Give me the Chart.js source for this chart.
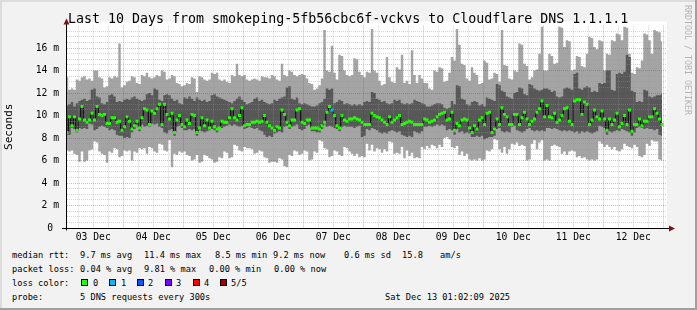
<!DOCTYPE html>
<html>
<head>
<meta charset="utf-8">
<title>smokeping 10 days</title>
<script src="https://cdn.jsdelivr.net/npm/chart.js@4.4.0/dist/chart.umd.min.js"></script>
<style>
  html, body { margin: 0; padding: 0; }
  body { width: 697px; height: 310px; overflow: hidden; }
  #frame {
    position: relative; width: 697px; height: 310px; background: #f2f2f2;
    box-shadow: inset -2px -2px 0 #a0a0a0, inset 2px 2px 0 #dcdcdc;
    font-family: 'DejaVu Sans Mono', monospace; color: #000;
  }
  #chart { position: absolute; left: 0; top: 0; }
  .title { position: absolute; left: 68px; top: 11.3px; font-size: 13.3px; line-height: 16px; white-space: pre; }
  .credit { position: absolute; left: 683px; top: 5px; font-size: 8.3px; line-height: 10px; color: #b4b4b4; writing-mode: vertical-rl; white-space: pre; }
  .ln { position: absolute; font-size: 8.67px; line-height: 10px; white-space: pre; }
  .box { position: absolute; top: 279px; width: 7px; height: 7px; box-sizing: border-box; border: 1px solid #000; }
</style>
</head>
<body>
<div id="frame">
  <canvas id="chart" width="697" height="250"></canvas>
  <div class="title">Last 10 Days from smokeping-5fb56cbc6f-vckvs to Cloudflare DNS 1.1.1.1</div>
  <div class="credit">RRDTOOL / TOBI OETIKER</div>

  <span class="ln" style="left:12px;top:250px">median rtt:</span>
  <span class="ln" style="left:80px;top:250px">9.7 ms avg</span>
  <span class="ln" style="left:144px;top:250px">11.4 ms max</span>
  <span class="ln" style="left:215px;top:250px">8.5 ms min</span>
  <span class="ln" style="left:273px;top:250px">9.2 ms now</span>
  <span class="ln" style="left:344px;top:250px">0.6 ms sd</span>
  <span class="ln" style="left:402px;top:250px">15.8</span>
  <span class="ln" style="left:440px;top:250px">am/s</span>

  <span class="ln" style="left:12px;top:264px">packet loss:</span>
  <span class="ln" style="left:80px;top:264px">0.04 % avg</span>
  <span class="ln" style="left:144px;top:264px">9.81 % max</span>
  <span class="ln" style="left:209px;top:264px">0.00 % min</span>
  <span class="ln" style="left:274px;top:264px">0.00 % now</span>

  <span class="ln" style="left:12px;top:278px">loss color:</span>
  <span class="box" style="left:81px;background:#20ff00"></span><span class="ln" style="left:93px;top:278px">0</span>
  <span class="box" style="left:109px;background:#00b8ff"></span><span class="ln" style="left:121px;top:278px">1</span>
  <span class="box" style="left:137px;background:#0059ff"></span><span class="ln" style="left:148px;top:278px">2</span>
  <span class="box" style="left:165px;background:#7e00ff"></span><span class="ln" style="left:176px;top:278px">3</span>
  <span class="box" style="left:193px;background:#ff0000"></span><span class="ln" style="left:204px;top:278px">4</span>
  <span class="box" style="left:220px;background:#a00000"></span><span class="ln" style="left:231px;top:278px">5/5</span>

  <span class="ln" style="left:12px;top:292px">probe:</span>
  <span class="ln" style="left:80px;top:292px">5 DNS requests every 300s</span>
  <span class="ln" style="left:385px;top:292px">Sat Dec 13 01:02:09 2025</span>
</div>

<script>
// hourly buckets, first one starts 03 Dec 01:00 (hours counted from 03 Dec 00:00)
const START_HOUR = 1;
const dayLabels = ['03 Dec', '04 Dec', '05 Dec', '06 Dec', '07 Dec', '08 Dec', '09 Dec', '10 Dec', '11 Dec', '12 Dec'];

// ms, one value per hour (ping 5 of 5 = max)
const pingMax = [
  13.4, 12.3, 12.4, 12.3, 13.2, 13.1, 13.4, 13.5, 13.2, 13.3, 13.1, 14.0, 14.0, 13.4, 13.3, 12.5, 12.6, 13.4, 13.3, 13.5, 13.4, 16.4, 12.5, 12.7,
  13.0, 13.1, 13.5, 13.4, 12.9, 12.8, 13.6, 13.5, 13.8, 13.4, 13.3, 13.4, 13.6, 13.5, 14.0, 13.9, 13.2, 13.3, 13.6, 13.5, 12.9, 12.8, 12.6, 12.7,
  12.9, 12.8, 13.4, 13.3, 12.1, 13.5, 13.4, 13.2, 13.1, 13.2, 13.8, 13.7, 13.8, 13.2, 13.1, 13.2, 13.0, 12.9, 13.6, 13.5, 14.6, 13.6, 13.5, 13.6,
  13.2, 13.1, 13.2, 13.3, 13.2, 13.1, 13.5, 13.4, 13.4, 13.3, 13.6, 13.5, 13.2, 13.1, 14.6, 13.6, 13.5, 14.0, 13.9, 13.6, 13.5, 13.6, 13.7, 13.6,
  13.3, 12.9, 12.8, 12.3, 12.4, 12.7, 13.3, 17.6, 14.0, 13.9, 16.2, 13.8, 13.2, 15.4, 15.3, 14.0, 13.6, 13.5, 13.6, 15.1, 15.0, 13.9, 13.6, 13.4,
  13.9, 13.8, 17.7, 14.0, 13.8, 13.1, 12.7, 12.8, 15.2, 13.4, 13.0, 12.9, 14.3, 14.1, 15.4, 12.9, 13.1, 12.8, 15.8, 13.6, 12.9, 13.6, 13.3, 12.9,
  12.9, 12.4, 12.3, 14.0, 13.9, 14.3, 14.2, 13.0, 13.1, 13.8, 15.2, 14.9, 17.7, 16.3, 14.6, 14.5, 13.3, 13.1, 14.3, 13.8, 13.6, 12.8, 12.9, 14.9,
  14.7, 13.2, 13.3, 13.8, 13.7, 13.0, 17.6, 14.5, 14.4, 13.3, 13.2, 14.0, 13.9, 16.4, 16.3, 14.6, 14.4, 13.2, 13.4, 14.0, 14.1, 15.5, 17.9, 14.0,
  14.0, 15.5, 15.3, 14.6, 14.7, 17.9, 17.8, 16.1, 16.7, 16.6, 14.0, 14.1, 15.3, 15.2, 14.4, 14.3, 15.5, 17.0, 16.9, 16.1, 15.9, 16.7, 16.6, 14.0,
  15.5, 15.4, 16.7, 16.6, 17.3, 17.2, 16.7, 17.9, 17.8, 15.5, 13.8, 13.7, 14.3, 14.2, 14.9, 17.3, 17.2, 16.7, 15.5, 17.6, 17.5, 17.4, 16.6
];

// ping 4 of 5
const pingQ4 = [
  10.9, 11.0, 11.2, 10.8, 11.1, 11.3, 11.4, 11.5, 11.3, 11.4, 12.3, 12.4, 11.7, 11.6, 11.1, 11.0, 11.2, 11.8, 11.9, 11.7, 11.2, 11.3, 11.2, 11.4,
  11.5, 11.4, 11.6, 11.7, 11.5, 11.4, 11.3, 11.4, 11.9, 12.0, 11.8, 12.4, 12.3, 11.4, 11.3, 11.8, 11.9, 11.8, 11.5, 11.3, 11.4, 11.1, 11.0, 11.6,
  11.5, 11.7, 11.5, 11.3, 11.6, 11.4, 11.3, 11.4, 11.2, 11.3, 11.8, 11.9, 11.7, 11.6, 11.5, 11.4, 11.3, 11.2, 11.1, 11.3, 11.5, 11.7, 11.4, 11.2,
  11.0, 11.1, 11.2, 11.5, 11.6, 11.3, 11.4, 11.2, 11.1, 11.0, 11.1, 11.4, 11.3, 11.5, 11.6, 11.7, 12.5, 12.6, 11.5, 11.4, 11.6, 11.1, 11.0, 11.1,
  11.0, 10.9, 10.8, 10.8, 10.9, 11.1, 11.2, 11.5, 12.4, 12.3, 12.4, 11.1, 11.2, 11.4, 11.3, 11.0, 11.1, 11.0, 10.9, 11.0, 10.9, 11.0, 10.9, 11.2,
  11.3, 11.2, 12.1, 12.0, 11.5, 11.4, 11.2, 11.3, 11.1, 11.0, 11.1, 11.4, 11.3, 11.4, 11.1, 11.0, 11.1, 11.0, 11.1, 11.4, 11.3, 11.2, 11.1, 11.0,
  10.8, 10.8, 10.9, 11.0, 11.1, 11.1, 11.0, 10.7, 10.6, 10.7, 11.3, 11.0, 12.7, 12.6, 11.5, 11.4, 11.0, 10.9, 11.2, 11.3, 11.2, 10.9, 11.0, 10.8,
  11.6, 11.5, 11.4, 11.3, 12.8, 12.7, 12.2, 12.1, 11.7, 11.6, 11.5, 12.0, 12.1, 12.5, 12.4, 11.9, 11.8, 12.8, 12.7, 12.4, 12.3, 12.2, 12.3, 12.4,
  12.4, 12.3, 12.1, 12.2, 11.7, 11.6, 11.7, 12.4, 12.5, 12.4, 12.3, 13.7, 13.8, 12.4, 12.3, 12.5, 12.6, 12.5, 12.1, 12.2, 12.1, 12.9, 12.8, 12.9,
  14.0, 14.0, 12.3, 12.2, 13.7, 13.8, 13.7, 13.9, 15.4, 15.2, 12.2, 12.1, 11.2, 11.3, 11.2, 12.3, 12.2, 11.7, 11.6, 11.7, 11.8, 11.8, 11.9
];

// median rtt (ping 3 of 5)
const medianRtt = [
  8.5, 9.9, 9.1, 9.9, 8.7, 9.7, 10.8, 9.6, 9.4, 9.6, 10.2, 9.6, 10.8, 10.1, 10.0, 10.1, 9.3, 9.3, 9.8, 9.8, 9.4, 9.5, 8.7, 9.0,
  9.9, 9.5, 8.8, 9.1, 9.5, 8.9, 9.8, 10.6, 10.5, 9.2, 10.4, 10.2, 10.6, 11.0, 9.2, 11.0, 10.1, 9.7, 10.2, 8.5, 9.6, 10.0, 9.2, 9.0,
  9.6, 9.3, 10.1, 10.0, 8.5, 8.9, 9.8, 9.1, 9.6, 8.9, 9.5, 9.0, 8.8, 8.9, 9.5, 9.4, 9.4, 9.8, 10.6, 9.8, 9.6, 10.0, 10.7, 9.1,
  9.2, 9.2, 9.4, 9.4, 9.5, 9.4, 9.5, 10.0, 9.4, 9.1, 8.9, 8.7, 9.0, 8.9, 10.5, 10.1, 9.4, 9.1, 9.6, 9.6, 10.5, 10.6, 9.4, 9.3,
  9.6, 9.6, 8.9, 8.9, 8.9, 8.8, 9.1, 9.4, 10.3, 10.8, 10.5, 10.0, 9.1, 8.9, 10.0, 9.6, 9.5, 9.7, 9.7, 9.8, 9.7, 9.6, 9.4, 9.2,
  9.2, 9.2, 10.2, 10.0, 9.9, 9.8, 9.6, 9.4, 9.2, 9.9, 9.4, 9.6, 9.8, 10.0, 9.2, 9.3, 9.4, 9.5, 9.4, 9.2, 9.2, 9.2, 9.2, 9.7,
  9.6, 9.4, 9.5, 9.6, 9.9, 10.1, 10.2, 10.3, 9.6, 9.7, 10.3, 8.7, 9.3, 9.1, 9.6, 9.7, 9.6, 8.9, 8.5, 9.1, 8.8, 9.6, 9.8, 9.2,
  10.2, 10.3, 8.5, 8.8, 9.7, 9.2, 10.7, 10.1, 9.9, 9.2, 9.2, 10.1, 10.1, 9.2, 9.8, 10.3, 9.7, 9.2, 9.5, 9.7, 10.3, 10.6, 11.3, 9.9,
  10.9, 9.9, 9.8, 10.2, 9.4, 9.6, 10.0, 10.6, 10.7, 9.5, 9.2, 11.3, 11.4, 11.4, 10.1, 11.2, 11.0, 9.2, 9.6, 10.5, 9.9, 9.7, 10.4, 9.7,
  8.7, 9.7, 9.2, 9.6, 10.2, 9.0, 9.3, 10.0, 9.2, 10.5, 8.6, 9.2, 9.2, 9.7, 9.1, 9.5, 9.5, 9.9, 9.9, 10.6, 10.2, 9.7, 9.2
];

// ping 2 of 5
const pingQ2 = [
  8.3, 8.3, 8.9, 8.8, 8.5, 8.9, 8.8, 8.9, 8.8, 9.3, 9.2, 8.7, 8.8, 9.0, 9.1, 9.0, 8.9, 8.7, 8.8, 8.7, 8.3, 8.2, 8.2, 8.0,
  8.1, 8.0, 8.5, 8.8, 9.2, 8.6, 9.2, 9.0, 9.1, 9.0, 9.3, 9.2, 9.3, 9.0, 8.9, 8.5, 8.4, 8.7, 8.8, 8.2, 9.0, 9.1, 8.9, 8.7,
  8.7, 8.8, 8.7, 8.8, 8.2, 8.7, 8.6, 8.5, 8.6, 8.7, 8.8, 8.7, 8.5, 8.8, 8.9, 9.0, 9.1, 9.2, 9.1, 9.2, 9.1, 9.0, 9.1, 8.8,
  8.9, 9.0, 8.9, 8.8, 8.9, 8.7, 8.6, 8.3, 8.1, 8.2, 8.1, 8.4, 8.5, 8.6, 8.5, 9.0, 9.1, 8.8, 9.0, 9.1, 9.2, 8.8, 8.7, 8.8,
  9.1, 9.2, 8.6, 8.6, 8.5, 8.5, 8.8, 9.2, 9.0, 9.1, 9.0, 8.9, 8.8, 8.6, 9.0, 9.1, 9.0, 9.0, 9.0, 8.9, 9.0, 9.1, 8.1, 8.2,
  8.8, 8.7, 8.9, 8.8, 8.7, 8.5, 8.4, 8.5, 8.4, 8.6, 8.7, 8.6, 8.5, 8.6, 8.3, 8.2, 8.1, 8.2, 8.1, 8.6, 8.5, 8.4, 8.6, 9.0,
  9.0, 9.1, 9.0, 9.1, 9.2, 9.1, 9.2, 9.1, 8.7, 8.8, 8.7, 8.3, 8.8, 8.5, 8.6, 8.4, 8.5, 8.4, 8.1, 8.1, 8.2, 8.1, 8.2, 7.9,
  8.0, 8.1, 8.1, 8.2, 8.8, 8.9, 8.6, 8.5, 8.6, 8.5, 9.0, 9.1, 8.7, 8.6, 8.5, 8.6, 8.8, 8.9, 8.7, 8.6, 8.7, 8.6, 8.7, 8.6,
  8.9, 8.9, 8.8, 8.9, 8.8, 8.7, 8.6, 8.7, 8.6, 8.7, 8.6, 8.5, 8.6, 8.4, 8.6, 8.5, 8.6, 8.5, 8.4, 8.5, 8.6, 9.1, 9.0, 8.9,
  8.3, 8.6, 8.5, 8.6, 8.7, 8.6, 8.8, 8.7, 8.6, 8.5, 8.2, 8.5, 8.9, 9.0, 8.9, 8.8, 8.9, 8.8, 8.8, 8.7, 8.8, 8.3, 8.2
];

// ping 1 of 5 = min
const pingMin = [
  6.9, 6.8, 6.9, 6.6, 6.5, 5.9, 6.8, 5.9, 6.0, 6.9, 7.0, 7.7, 7.6, 6.8, 6.6, 6.5, 5.8, 6.8, 6.7, 7.1, 7.0, 6.3, 6.4, 6.9,
  6.8, 6.9, 6.0, 6.8, 6.7, 7.1, 7.0, 7.1, 6.6, 7.2, 7.1, 6.8, 6.7, 7.5, 7.4, 6.9, 6.8, 7.8, 5.4, 6.6, 6.5, 6.8, 6.7, 6.8,
  6.5, 6.4, 6.0, 6.1, 6.5, 5.8, 5.9, 6.5, 6.4, 6.2, 6.1, 5.8, 5.9, 6.3, 6.2, 6.8, 6.7, 6.2, 6.3, 7.4, 7.3, 6.9, 6.8, 7.2,
  7.1, 7.1, 7.0, 6.6, 6.7, 6.9, 6.8, 6.3, 6.2, 5.8, 5.9, 5.9, 5.8, 6.2, 6.1, 5.5, 5.4, 6.5, 6.4, 6.9, 6.8, 6.5, 6.6, 6.9,
  6.8, 6.0, 6.1, 6.8, 6.7, 7.8, 7.7, 7.1, 7.0, 6.3, 6.4, 6.9, 6.8, 6.5, 6.4, 7.2, 7.1, 6.8, 6.6, 6.4, 6.6, 6.3, 6.4, 6.3,
  7.5, 6.9, 7.4, 6.8, 7.1, 7.0, 6.7, 7.0, 6.8, 7.7, 7.6, 6.6, 6.7, 6.6, 7.2, 6.2, 6.9, 6.4, 6.7, 6.2, 6.3, 6.2, 7.2, 7.0,
  7.3, 7.1, 7.4, 7.3, 7.1, 7.4, 7.2, 8.0, 8.1, 7.9, 7.2, 7.1, 7.3, 6.5, 6.8, 6.4, 6.6, 6.1, 6.0, 6.1, 6.0, 6.2, 6.0, 6.1,
  6.9, 6.8, 7.0, 7.9, 7.8, 7.0, 6.7, 7.2, 6.6, 7.0, 7.5, 7.4, 7.6, 7.3, 7.4, 7.3, 6.0, 6.1, 7.5, 7.8, 7.0, 7.6, 7.8, 6.0,
  6.1, 6.0, 7.3, 7.4, 7.3, 7.2, 6.6, 6.8, 6.5, 6.8, 6.9, 6.8, 6.3, 6.4, 6.2, 6.3, 6.1, 6.0, 6.1, 6.0, 6.1, 7.7, 7.5, 7.2,
  7.4, 7.2, 7.0, 7.2, 6.9, 6.8, 7.0, 7.5, 7.3, 7.2, 7.1, 7.4, 7.2, 6.4, 6.3, 6.5, 7.5, 7.3, 7.8, 7.7, 7.7, 6.1, 6.0
];

// [bucket index, pings lost]; every other hour lost nothing
const lossBuckets = [[106, 1]];
const lossColors = ['#20ff00', '#00b8ff', '#0059ff', '#7e00ff', '#ff0000', '#a00000'];

const lossAt = medianRtt.map(() => 0);
lossBuckets.forEach(([i, n]) => { lossAt[i] = n; });

const pts = arr => arr.map((v, i) => ({ x: START_HOUR + i + 0.5, y: v }));

const xTicks = [];
for (let h = 6; h <= 240; h += 6) xTicks.push(h);
const yTicks = [];
for (let v = 0; v < 18; v += 0.5) yTicks.push(v);

const MAJOR = 'rgba(230,0,0,0.33)';
const MINOR = 'rgba(150,150,150,0.4)';
const NONE = 'rgba(0,0,0,0)';

const rrdFrame = {
  id: 'rrdFrame',
  beforeDraw(chart) {
    const { ctx, chartArea: a } = chart;
    ctx.save();
    ctx.fillStyle = '#ffffff';
    ctx.fillRect(a.left, a.top - 4, a.right - a.left, a.bottom - a.top + 4);
    ctx.restore();
  },
  afterDraw(chart) {
    const { ctx, chartArea: a } = chart;
    const x0 = Math.round(a.left) - 0.5, y0 = Math.round(a.bottom) + 0.5;
    ctx.save();
    ctx.strokeStyle = '#000';
    ctx.lineWidth = 1;
    ctx.beginPath();
    ctx.moveTo(x0, y0 + 2);
    ctx.lineTo(x0, a.top - 4);
    ctx.moveTo(a.left - 5, y0);
    ctx.lineTo(a.right + 3, y0);
    ctx.stroke();
    ctx.fillStyle = '#7f1010';
    ctx.beginPath();
    ctx.moveTo(x0 - 3, a.top - 1);
    ctx.lineTo(x0 + 3, a.top - 1);
    ctx.lineTo(x0, a.top - 7);
    ctx.closePath();
    ctx.fill();
    ctx.beginPath();
    ctx.moveTo(a.right + 2, y0 - 3);
    ctx.lineTo(a.right + 2, y0 + 3);
    ctx.lineTo(a.right + 8, y0);
    ctx.closePath();
    ctx.fill();
    ctx.restore();
  }
};

Chart.defaults.font.family = "'DejaVu Sans Mono', monospace";
Chart.defaults.color = '#000';

new Chart(document.getElementById('chart'), {
  type: 'line',
  data: {
    datasets: [
      { label: 'max', data: pts(pingMax), fill: '+1', backgroundColor: '#a4a4a4',
        borderColor: NONE, borderWidth: 0, pointRadius: 0, stepped: 'middle', order: 3 },
      { label: 'min', data: pts(pingMin), fill: false,
        borderColor: NONE, borderWidth: 0, pointRadius: 0, stepped: 'middle', order: 3 },
      { label: 'q4', data: pts(pingQ4), fill: '+1', backgroundColor: '#585858',
        borderColor: NONE, borderWidth: 0, pointRadius: 0, stepped: 'middle', order: 2 },
      { label: 'q2', data: pts(pingQ2), fill: false,
        borderColor: NONE, borderWidth: 0, pointRadius: 0, stepped: 'middle', order: 2 },
      { label: 'median', data: pts(medianRtt), fill: false, borderColor: '#000', borderWidth: 1,
        stepped: 'middle', order: 1, pointStyle: 'line', pointRadius: 1.5, pointBorderWidth: 3,
        pointBorderColor: c => lossColors[lossAt[c.dataIndex]] }
    ]
  },
  options: {
    responsive: false,
    animation: false,
    devicePixelRatio: 1,
    events: [],
    layout: { padding: { left: 0, top: 25.5, right: 30, bottom: 0 } },
    plugins: { legend: { display: false }, tooltip: { enabled: false } },
    scales: {
      x: {
        type: 'linear', min: 1.5, max: 241.5,
        afterBuildTicks: s => { s.ticks = xTicks.map(v => ({ value: v })); },
        afterFit: s => { s.height = 22; },
        grid: { z: 1, drawTicks: false, color: c => (c.tick && c.tick.value % 24 === 0) ? MAJOR : MINOR },
        border: { display: false, dash: [1, 1] },
        ticks: { autoSkip: false, maxRotation: 0, minRotation: 0, padding: 4, font: { size: 9.7 }, color: '#000',
          callback: v => (v % 24 === 12) ? dayLabels[(v - 12) / 24] : '' }
      },
      y: {
        type: 'linear', min: 0, max: 18,
        afterBuildTicks: s => { s.ticks = yTicks.map(v => ({ value: v })); },
        afterFit: s => { s.width = 67; },
        grid: { z: 1, drawTicks: false, color: c => (c.tick && c.tick.value % 2 === 0) ? MAJOR : MINOR },
        border: { display: false, dash: [1, 1] },
        ticks: { autoSkip: false, padding: 8, font: { size: 9.7 }, color: '#000',
          callback: v => (v % 2 !== 0) ? '' : (v === 0 ? '0 ' : v + ' m') },
        title: { display: true, text: 'Seconds', font: { size: 11 }, color: '#000', padding: { top: 3, bottom: 0 } }
      }
    }
  },
  plugins: [rrdFrame]
});
</script>
</body>
</html>
